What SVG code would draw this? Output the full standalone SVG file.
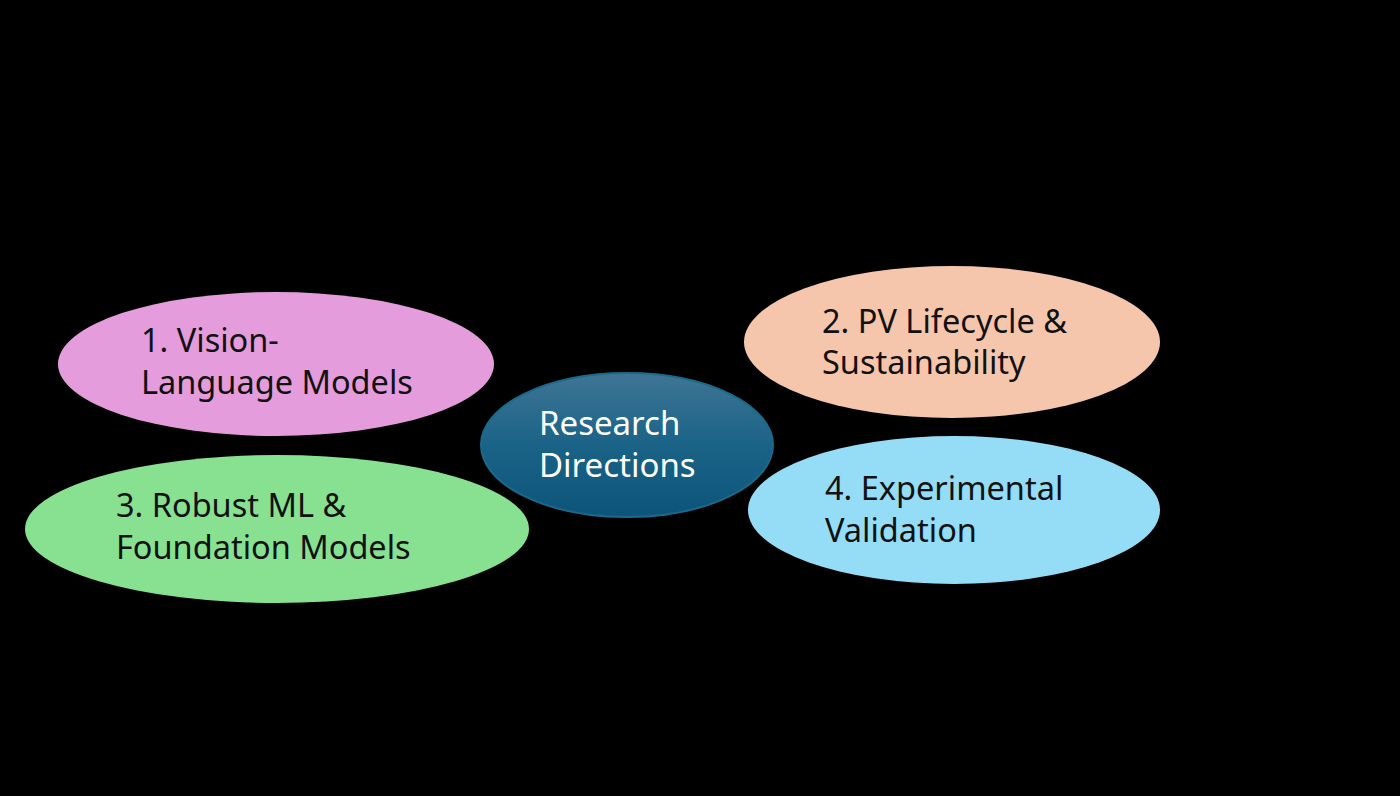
<svg xmlns="http://www.w3.org/2000/svg" width="1400" height="796" viewBox="0 0 1400 796">
  <defs>
    <linearGradient id="hubFill" x1="0" y1="0" x2="0" y2="1">
      <stop offset="0" stop-color="#3F7595"/>
      <stop offset="0.5" stop-color="#1A6387"/>
      <stop offset="1" stop-color="#0D5479"/>
    </linearGradient>
  </defs>
  <style>
    .lbl { font-family: "Noto Sans", "Liberation Sans", sans-serif; font-size: 32.5px; fill: #111111; }
    .hub { font-family: "Noto Sans", "Liberation Sans", sans-serif; font-size: 33px; fill: #FFFFFF; }
  </style>
  <rect x="0" y="0" width="1400" height="796" fill="#000000"/>

  <g id="connectors"></g>

  <g id="node-vlm">
    <ellipse cx="276" cy="364" rx="218" ry="72" fill="#E59CDC"/>
    <text class="lbl" x="141" y="352">1. Vision-</text>
    <text class="lbl" x="141" y="394">Language Models</text>
  </g>

  <g id="node-lifecycle">
    <ellipse cx="952" cy="342" rx="208" ry="76" fill="#F5C6AB"/>
    <text class="lbl" x="822" y="333">2. PV Lifecycle &amp;</text>
    <text class="lbl" x="822" y="374">Sustainability</text>
  </g>

  <g id="node-robust">
    <ellipse cx="277" cy="529" rx="252" ry="74" fill="#88E191"/>
    <text class="lbl" x="116" y="517">3. Robust ML &amp;</text>
    <text class="lbl" x="116" y="559">Foundation Models</text>
  </g>

  <g id="node-validation">
    <ellipse cx="954" cy="510" rx="206" ry="74" fill="#95DCF6"/>
    <text class="lbl" x="825" y="500">4. Experimental</text>
    <text class="lbl" x="825" y="542">Validation</text>
  </g>

  <g id="node-hub">
    <ellipse cx="627" cy="445" rx="146" ry="72" fill="url(#hubFill)" stroke="#1B6A8C" stroke-width="2"/>
    <text class="hub" x="539" y="435">Research</text>
    <text class="hub" x="539" y="477">Directions</text>
  </g>
</svg>
